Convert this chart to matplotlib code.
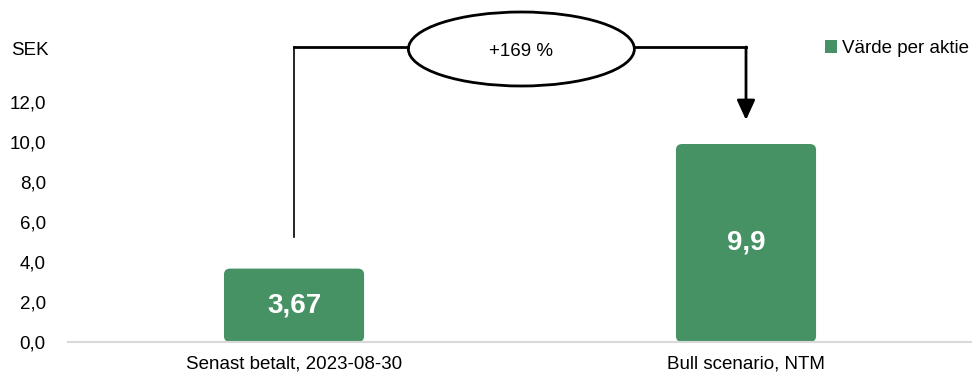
import matplotlib.pyplot as plt
from matplotlib.patches import FancyBboxPatch, Ellipse, Patch

# -------------------------------
# Data
# -------------------------------
categories = ["Senast betalt, 2023-08-30", "Bull scenario, NTM"]
values = [3.67, 9.9]
value_labels = ["3,67", "9,9"]
series_name = "Värde per aktie"
change_label = "+169 %"
yticks = [0, 2, 4, 6, 8, 10, 12]

GREEN = "#479265"
FS = 13.5
plt.rcParams["font.family"] = ["Liberation Sans", "DejaVu Sans"]

# -------------------------------
# Figure
# -------------------------------
fig = plt.figure(figsize=(9.72, 3.8), dpi=100)
ax = fig.add_axes([0.07, 0.1, 0.93, 0.9])
ax.set_xlim(-0.5, 1.5)
ax.set_ylim(0, 17.1)

x = list(range(len(categories)))
bars = ax.bar(x, values, width=0.31, color=GREEN)

# swap the plain rectangles for rounded ones
for rect in bars:
    rect.set_visible(False)
    box = FancyBboxPatch((rect.get_x(), rect.get_y()), rect.get_width(), rect.get_height(),
                         boxstyle="round,pad=0,rounding_size=0.014",
                         mutation_aspect=21, facecolor=GREEN, edgecolor="none")
    ax.add_patch(box)

for xi, v, lab in zip(x, values, value_labels):
    ax.text(xi, v / 2, lab, ha="center", va="center", color="white",
            fontsize=20, fontweight="bold")

# axes styling
for side in ["top", "right", "left"]:
    ax.spines[side].set_visible(False)
ax.spines["bottom"].set_color("#d9d9d9")
ax.spines["bottom"].set_linewidth(1.5)
ax.set_yticks(yticks)
ax.set_yticklabels([f"{t:.1f}".replace(".", ",") for t in yticks])
ax.set_xticks(x)
ax.set_xticklabels(categories)
ax.tick_params(axis="y", length=0, pad=16, labelsize=FS)
ax.tick_params(axis="x", length=0, pad=10, labelsize=FS)

fig.text(0.011, 0.868, "SEK", fontsize=FS, va="center", ha="left")

# -------------------------------
# Change connector
# -------------------------------
line_y = 14.75
ell_cx, ell_w, ell_h = 0.503, 0.5, 3.7
ax.plot([x[0], x[0]], [values[0] + 1.6, line_y], color="black", lw=1.2, clip_on=False)
ax.plot([x[0], ell_cx - ell_w / 2], [line_y, line_y], color="black", lw=2,
        solid_capstyle="projecting", clip_on=False)
ax.plot([ell_cx + ell_w / 2, x[1]], [line_y, line_y], color="black", lw=2,
        solid_capstyle="projecting", clip_on=False)
ax.annotate("", xy=(x[1], values[1] + 1.2), xytext=(x[1], line_y),
            arrowprops=dict(arrowstyle="-|>,head_width=0.55,head_length=1.2",
                            color="black", lw=2, shrinkA=0, shrinkB=0),
            annotation_clip=False)
ax.add_patch(Ellipse((ell_cx, 14.65), ell_w, ell_h, facecolor="white",
                     edgecolor="black", lw=2, clip_on=False))
ax.text(ell_cx, 14.5, change_label, ha="center", va="center", fontsize=FS)

# legend
ax.legend(handles=[Patch(facecolor=GREEN, label=series_name)],
          loc="center right", bbox_to_anchor=(1.005, 0.872), bbox_transform=fig.transFigure,
          frameon=False, fontsize=FS, handlelength=0.65, handleheight=0.65,
          handletextpad=0.3, borderaxespad=0)

fig.savefig("out.png", dpi=100)
